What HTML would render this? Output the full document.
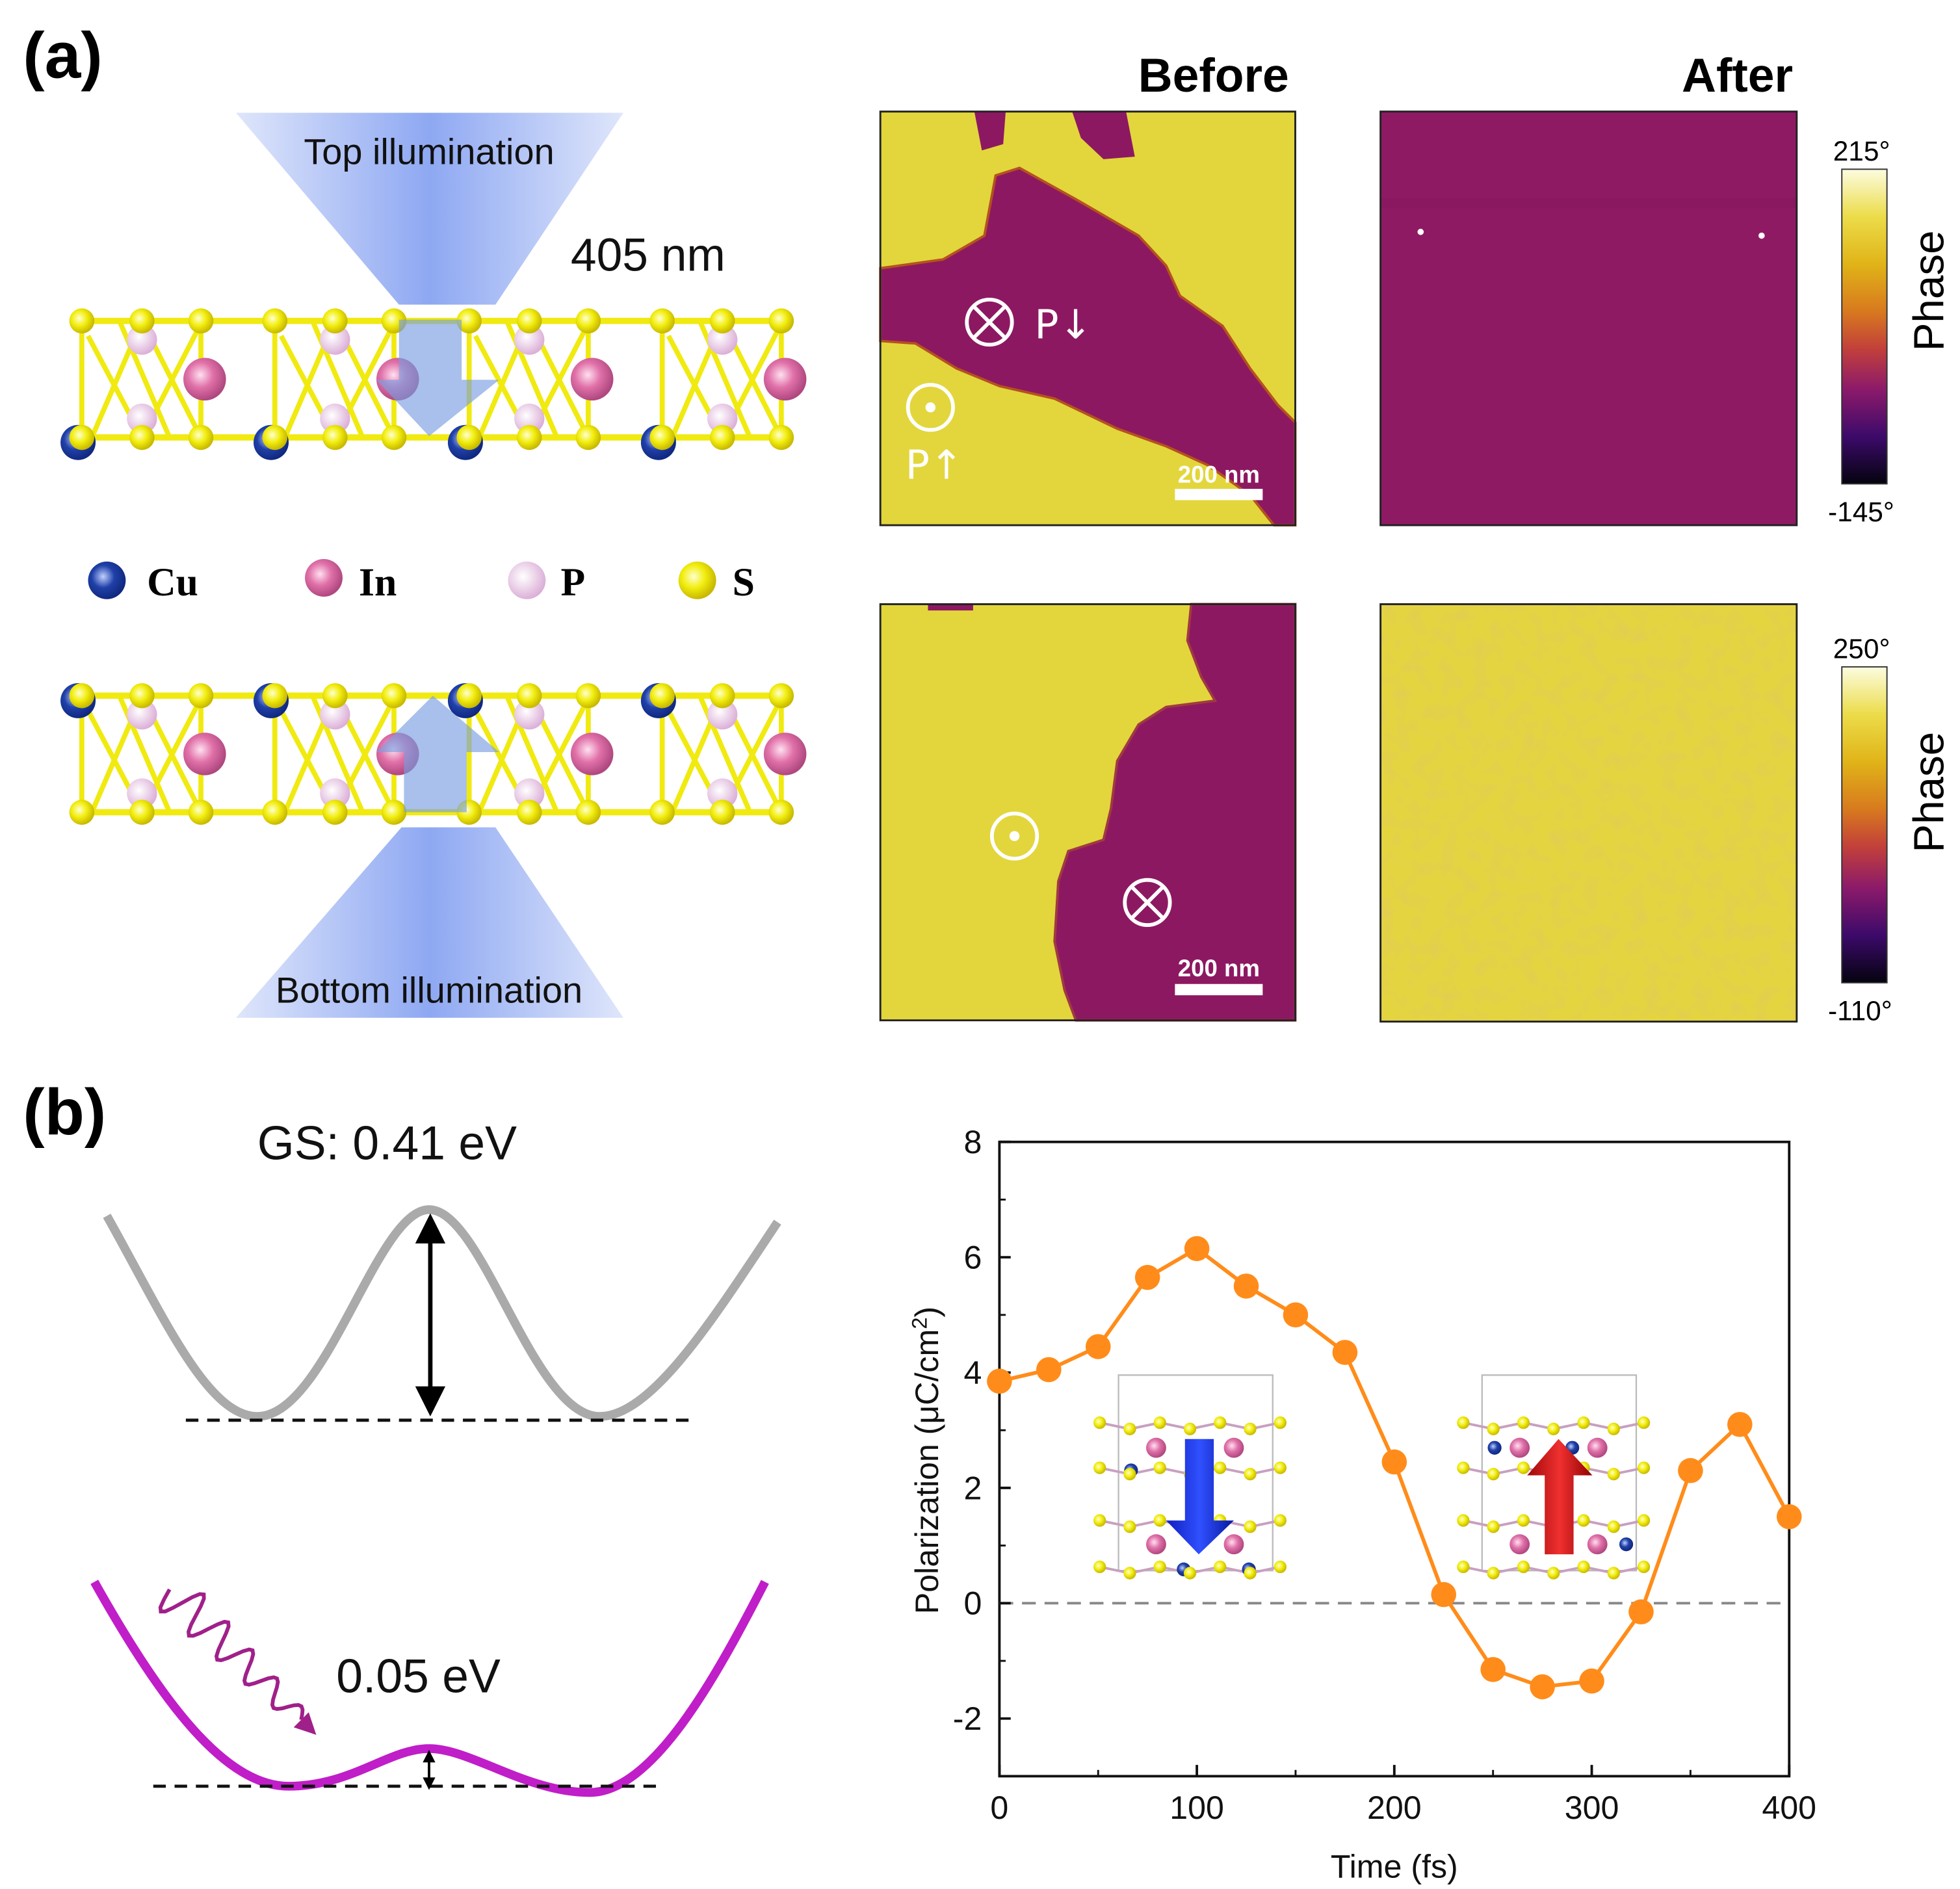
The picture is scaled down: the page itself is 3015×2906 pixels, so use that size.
<!DOCTYPE html>
<html><head><meta charset="utf-8">
<style>
html,body{margin:0;padding:0;background:#fff;}
svg{display:block;font-family:"Liberation Sans",sans-serif;}
</style></head>
<body>
<svg id="fig" width="3015" height="2906" viewBox="0 0 1563 1507" xmlns="http://www.w3.org/2000/svg">
<defs>
  <linearGradient id="beamTop" x1="0" x2="1" y1="0" y2="0">
    <stop offset="0" stop-color="#dfe6fb"/><stop offset="0.5" stop-color="#8ea8f2"/><stop offset="1" stop-color="#dfe6fb"/>
  </linearGradient>
  <linearGradient id="cbar" x1="0" x2="0" y1="0" y2="1">
    <stop offset="0" stop-color="#fcfce0"/><stop offset="0.15" stop-color="#ecdc4a"/><stop offset="0.3" stop-color="#e0b418"/>
    <stop offset="0.45" stop-color="#d87a1e"/><stop offset="0.57" stop-color="#c2403a"/><stop offset="0.7" stop-color="#8c1a6a"/>
    <stop offset="0.85" stop-color="#3c0a6a"/><stop offset="1" stop-color="#05030f"/>
  </linearGradient>
  <radialGradient id="gS" cx="0.4" cy="0.4" r="0.6"><stop offset="0" stop-color="#ffffd0"/><stop offset="0.5" stop-color="#f2ee10"/><stop offset="1" stop-color="#c8b800"/></radialGradient>
  <radialGradient id="gIn" cx="0.4" cy="0.4" r="0.6"><stop offset="0" stop-color="#ffe0f0"/><stop offset="0.5" stop-color="#e070a8"/><stop offset="1" stop-color="#b04880"/></radialGradient>
  <radialGradient id="gP" cx="0.4" cy="0.4" r="0.6"><stop offset="0" stop-color="#fff"/><stop offset="1" stop-color="#dcb0d8"/></radialGradient>
  <radialGradient id="gCu" cx="0.4" cy="0.4" r="0.6"><stop offset="0" stop-color="#c0d0ff"/><stop offset="0.5" stop-color="#2040a8"/><stop offset="1" stop-color="#102880"/></radialGradient>
  <linearGradient id="gBlue" x1="0" x2="1"><stop offset="0" stop-color="#1020c0"/><stop offset="0.5" stop-color="#3050ff"/><stop offset="1" stop-color="#0818a0"/></linearGradient>
  <linearGradient id="gRed" x1="0" x2="1"><stop offset="0" stop-color="#a00808"/><stop offset="0.5" stop-color="#f03030"/><stop offset="1" stop-color="#900000"/></linearGradient>
  <filter id="noise" x="0" y="0" width="1" height="1"><feTurbulence type="fractalNoise" baseFrequency="0.08" numOctaves="2" seed="3"/><feColorMatrix values="0 0 0 0 0.75  0 0 0 0 0.6  0 0 0 0 0.1  0 0 0 1.4 -0.6"/></filter>
</defs>

<text x="18" y="62" font-size="52" font-weight="bold">(a)</text>
<text x="18" y="905" font-size="52" font-weight="bold">(b)</text>

<polygon points="188,90 497,90 395,243 318,243" fill="url(#beamTop)"/>
<text x="342" y="131" font-size="29" text-anchor="middle" fill="#111">Top illumination</text>
<text x="455" y="216" font-size="37" fill="#111">405 nm</text>
<polygon points="320,660 395,660 497,812 188,812" fill="url(#beamTop)"/>
<text x="342" y="800" font-size="29" text-anchor="middle" fill="#111">Bottom illumination</text>

<g id="crys1"></g>
<g id="crys2"></g>

<polygon points="318,255 368,255 368,303 398,303 342,348 300,303 318,303" fill="#7a9ee0" fill-opacity="0.65"/>
<polygon points="322,648 372,648 372,600 398,600 345,555 300,600 322,600" fill="#7a9ee0" fill-opacity="0.65"/>

<g font-family="Liberation Serif,serif" font-weight="bold" font-size="32">
  <circle cx="85" cy="463" r="15" fill="url(#gCu)"/><text x="117" y="475">Cu</text>
  <circle cx="258" cy="461" r="15" fill="url(#gIn)"/><text x="286" y="475">In</text>
  <circle cx="420" cy="463" r="15" fill="url(#gP)"/><text x="447" y="475">P</text>
  <circle cx="556" cy="463" r="15" fill="url(#gS)"/><text x="584" y="475">S</text>
</g>

<text x="1028" y="73" font-size="38" font-weight="bold" text-anchor="end">Before</text>
<text x="1430" y="73" font-size="38" font-weight="bold" text-anchor="end">After</text>

<g>
  <rect x="702" y="89" width="331" height="330" fill="#e2d63c"/>
  <polygon points="702,214 752,207 785,188 794,140 813,134 858,159 908,188 930,212 941,236 975,260 997,294 1019,323 1033,337 1033,419 1016,419 997,395 963,371 930,356 891,342 841,318 797,308 763,294 730,274 702,272" fill="#8d1862" stroke="#b4521e" stroke-width="2"/>
  <polygon points="777,89 802,89 800,115 783,120" fill="#8d1862"/>
  <polygon points="855,89 898,89 905,125 880,127 862,110" fill="#8d1862"/>
  <rect x="702" y="89" width="331" height="330" fill="none" stroke="#222" stroke-width="1.5"/>
  <g fill="none" stroke="#fff" stroke-width="3">
    <circle cx="789" cy="257" r="18"/><line x1="777" y1="245" x2="801" y2="269"/><line x1="801" y1="245" x2="777" y2="269"/>
    <circle cx="742" cy="325" r="18"/>
  </g>
  <circle cx="742" cy="325" r="4" fill="#fff"/>
  <text x="825" y="270" font-size="32" fill="#fff" font-family="DejaVu Sans,sans-serif">P↓</text>
  <text x="722" y="382" font-size="32" fill="#fff" font-family="DejaVu Sans,sans-serif">P↑</text>
  <text x="972" y="385" font-size="19" font-weight="bold" fill="#fff" text-anchor="middle">200 nm</text>
  <rect x="937" y="390" width="70" height="9" fill="#fff"/>
</g>

<g>
  <rect x="1101" y="89" width="332" height="330" fill="#8f1a64" stroke="#222" stroke-width="1.5"/>
  <rect x="1102" y="158" width="330" height="8" fill="#87185e" opacity="0.6"/>
  <circle cx="1133" cy="185" r="2.5" fill="#fff"/><circle cx="1405" cy="188" r="2.5" fill="#fff"/>
</g>

<g>
  <rect x="702" y="482" width="331" height="332" fill="#e2d63c"/>
  <polygon points="950,482 947,511 958,540 969,559 930,564 908,578 891,607 886,645 880,670 852,679 844,703 841,751 849,790 858,814 1033,814 1033,482" fill="#8d1862" stroke="#a03a40" stroke-width="2"/>
  <rect x="740" y="482" width="36" height="5" fill="#8d1862"/>
  <rect x="702" y="482" width="331" height="332" fill="none" stroke="#222" stroke-width="1.5"/>
  <g fill="none" stroke="#fff" stroke-width="3">
    <circle cx="809" cy="667" r="18"/>
    <circle cx="915" cy="720" r="18"/><line x1="903" y1="708" x2="927" y2="732"/><line x1="927" y1="708" x2="903" y2="732"/>
  </g>
  <circle cx="809" cy="667" r="4" fill="#fff"/>
  <text x="972" y="779" font-size="19" font-weight="bold" fill="#fff" text-anchor="middle">200 nm</text>
  <rect x="937" y="785" width="70" height="9" fill="#fff"/>
</g>

<g>
  <rect x="1101" y="482" width="332" height="333" fill="#e4d440"/>
  <rect x="1101" y="482" width="332" height="333" fill="#fff" filter="url(#noise)"/>
  <rect x="1101" y="482" width="332" height="333" fill="none" stroke="#222" stroke-width="1.5"/>
</g>

<g>
  <rect x="1469" y="135" width="36" height="251" fill="url(#cbar)" stroke="#333" stroke-width="1"/>
  <text x="1462" y="128" font-size="22">215°</text>
  <text x="1458" y="416" font-size="22">-145°</text>
  <text transform="translate(1550,232) rotate(-90)" font-size="34" text-anchor="middle">Phase</text>
</g>
<g>
  <rect x="1469" y="532" width="36" height="252" fill="url(#cbar)" stroke="#333" stroke-width="1"/>
  <text x="1462" y="525" font-size="22">250°</text>
  <text x="1458" y="814" font-size="22">-110°</text>
  <text transform="translate(1550,632) rotate(-90)" font-size="34" text-anchor="middle">Phase</text>
</g>

<text x="205" y="925" font-size="38" fill="#111">GS: 0.41 eV</text>
<path d="M85,970 C130,1050 165,1130 205,1130 C260,1130 300,965 342,965 C385,965 425,1130 478,1130 C520,1130 570,1050 620,975" fill="none" stroke="#aaaaaa" stroke-width="7"/>
<line x1="148" y1="1133" x2="553" y2="1133" stroke="#111" stroke-width="2.5" stroke-dasharray="10,7"/>
<g>
  <line x1="343" y1="985" x2="343" y2="1112" stroke="#000" stroke-width="3.5"/>
  <polygon points="343,968 331,992 355,992" fill="#000"/><polygon points="343,1130 331,1106 355,1106" fill="#000"/>
</g>
<path d="M75,1262 C130,1360 180,1425 230,1425 C280,1425 310,1395 342,1395 C375,1395 420,1430 470,1430 C520,1430 570,1340 610,1262" fill="none" stroke="#c01ec8" stroke-width="7"/>
<line x1="122" y1="1425" x2="528" y2="1425" stroke="#111" stroke-width="2.5" stroke-dasharray="10,7"/>
<g>
  <line x1="342" y1="1402" x2="342" y2="1422" stroke="#000" stroke-width="2"/>
  <polygon points="342,1396 337,1406 347,1406" fill="#000"/><polygon points="342,1428 337,1418 347,1418" fill="#000"/>
</g>
<path id="wave" fill="none" stroke="#a0208a" stroke-width="3"/>
<polygon points="252,1384 234,1378 246,1366" fill="#a0208a"/>
<text x="268" y="1350" font-size="38" fill="#111">0.05 eV</text>

<g id="chart"></g>
</svg>

<script>
const NS="http://www.w3.org/2000/svg";
function mk(parent,tag,attrs){const e=document.createElementNS(NS,tag);for(const k in attrs)e.setAttribute(k,attrs[k]);parent.appendChild(e);return e;}

function crystal(g,top,bot,flip){
  const starts=[65,219,374,528];
  mk(g,'line',{x1:62,y1:top,x2:626,y2:top,stroke:'#f0ea10','stroke-width':5});
  mk(g,'line',{x1:62,y1:bot,x2:626,y2:bot,stroke:'#f0ea10','stroke-width':5});
  starts.forEach(u=>{
    [[u,top,u,bot],[u+95,top,u+95,bot],[u+5,top+12,u+48,bot],[u+48,top,u+8,bot],[u+48,top,u+95,bot],[u+92,top+8,u+48,bot],[u+30,top,u+70,bot]].forEach(l=>{
      mk(g,'line',{x1:l[0],y1:l[1],x2:l[2],y2:l[3],stroke:'#f0ea10','stroke-width':4});
    });
    mk(g,'circle',{cx:u+48,cy:top+15,r:12,fill:'url(#gP)'});
    mk(g,'circle',{cx:u+48,cy:bot-15,r:12,fill:'url(#gP)'});
    mk(g,'circle',{cx:u+98,cy:(top+bot)/2,r:17,fill:'url(#gIn)'});
    mk(g,'circle',{cx:u-3,cy:flip?top+4:bot+4,r:14,fill:'url(#gCu)'});
    [0,48,95].forEach(dx=>{
      mk(g,'circle',{cx:u+dx,cy:top,r:10,fill:'url(#gS)'});
      mk(g,'circle',{cx:u+dx,cy:bot,r:10,fill:'url(#gS)'});
    });
  });
}
crystal(document.getElementById('crys1'),256,349,false);
crystal(document.getElementById('crys2'),555,648,true);

(function(){
  let d='';const x0=135,y0=1268,x1=240,y1=1372,n=60;
  const dx=x1-x0,dy=y1-y0,L=Math.hypot(dx,dy),ux=dx/L,uy=dy/L,px=-uy,py=ux;
  for(let i=0;i<=n;i++){const t=i/n;const a=Math.sin(t*Math.PI*10)*18*(1-0.6*t);
    const x=x0+dx*t+px*a,y=y0+dy*t+py*a;d+=(i?'L':'M')+x.toFixed(1)+','+y.toFixed(1);}
  document.getElementById('wave').setAttribute('d',d);
})();

const timeFs=[0,25,50,75,100,125,150,175,200,225,250,275,300,325,350,375,400];
const polarization=[3.85,4.05,4.45,5.65,6.15,5.5,5.0,4.35,2.45,0.15,-1.15,-1.45,-1.35,-0.15,2.3,3.1,1.5];
const xTicks=[0,100,200,300,400];
const yTicks=[-2,0,2,4,6,8];
const xMinorTicks=[50,150,250,350];
const yMinorTicks=[-3,-1,1,3,5,7];

const PL=797,PR=1427,PT=911,PB=1417,XMIN=0,XMAX=400,YMIN=-3,YMAX=8;
const sx=v=>PL+(v-XMIN)/(XMAX-XMIN)*(PR-PL);
const sy=v=>PB-(v-YMIN)/(YMAX-YMIN)*(PB-PT);
const ch=document.getElementById('chart');

const frame=mk(ch,'rect',{x:PL,y:PT,width:PR-PL,height:PB-PT,fill:'none',stroke:'#111','stroke-width':2});



const zl=mk(ch,'line',{x1:PL,x2:PR,y1:sy(0),y2:sy(0),stroke:'#888','stroke-width':2,'stroke-dasharray':'11,7'});



xTicks.forEach(v=>{
  const t=mk(ch,'line',{x1:sx(v),x2:sx(v),y1:PB,y2:PB-9,stroke:'#111','stroke-width':2});
  
  
  const l=mk(ch,'text',{x:sx(v),y:PB+34,'font-size':26,'text-anchor':'middle',fill:'#111'});
  l.textContent=v;
  
  
});
xMinorTicks.forEach(v=>{
  const t=mk(ch,'line',{x1:sx(v),x2:sx(v),y1:PB,y2:PB-5,stroke:'#111','stroke-width':1.5});
  
  
});
yTicks.forEach(v=>{
  const t=mk(ch,'line',{x1:PL,x2:PL+9,y1:sy(v),y2:sy(v),stroke:'#111','stroke-width':2});
  
  
  const l=mk(ch,'text',{x:PL-14,y:sy(v)+9,'font-size':26,'text-anchor':'end',fill:'#111'});
  l.textContent=v;
  
  
});
yMinorTicks.forEach(v=>{
  const t=mk(ch,'line',{x1:PL,x2:PL+5,y1:sy(v),y2:sy(v),stroke:'#111','stroke-width':1.5});
  
  
});

const xt=mk(ch,'text',{x:(PL+PR)/2,y:1498,'font-size':26,'text-anchor':'middle',fill:'#111'});
xt.textContent='Time (fs)';


const yt=mk(ch,'text',{transform:'translate(748,1165) rotate(-90)','font-size':26,'text-anchor':'middle',fill:'#111'});
yt.innerHTML='Polarization (μC/cm<tspan dy="-9" font-size="17">2</tspan><tspan dy="9">)</tspan>';



function inset(x0,down){
  const g=mk(ch,'g',{});
  
  
  mk(g,'rect',{x:x0,y:1097,width:123,height:156,fill:'#fff','fill-opacity':0.4,stroke:'#bbb','stroke-width':1.2});
  [1137,1173,1215,1252].forEach(yy=>{
    for(let i=0;i<6;i++){
      const cx=x0-15+i*24, cy=yy+(i%2?3:-2);
      mk(g,'line',{x1:cx,y1:cy,x2:cx+24,y2:yy+((i+1)%2?3:-2),stroke:'#c8a0c0','stroke-width':2});
    }
  });
  [[x0+30,1155],[x0+92,1155],[x0+30,1232],[x0+92,1232]].forEach(p=>mk(g,'circle',{cx:p[0],cy:p[1],r:8,fill:'url(#gIn)'}));
  (down?[[x0+10,1173],[x0+52,1252],[x0+104,1252]]:[[x0+10,1155],[x0+72,1155],[x0+115,1232]]).forEach(p=>mk(g,'circle',{cx:p[0],cy:p[1],r:5.5,fill:'url(#gCu)'}));
  [1137,1173,1215,1252].forEach(yy=>{
    for(let i=0;i<7;i++) mk(g,'circle',{cx:x0-15+i*24,cy:yy+(i%2?3:-2),r:5,fill:'url(#gS)'});
  });
  if(down) mk(g,'polygon',{points:`${x0+53},1148 ${x0+76},1148 ${x0+76},1213 ${x0+92},1213 ${x0+64},1240 ${x0+38},1213 ${x0+53},1213`,fill:'url(#gBlue)'});
  else mk(g,'polygon',{points:`${x0+50},1240 ${x0+73},1240 ${x0+73},1177 ${x0+88},1177 ${x0+61},1148 ${x0+36},1177 ${x0+50},1177`,fill:'url(#gRed)'});
}
inset(892,true);
inset(1182,false);

let d='';
timeFs.forEach((t,i)=>{d+=(i?'L':'M')+sx(t).toFixed(1)+','+sy(polarization[i]).toFixed(1);});
const line=mk(ch,'path',{d:d,fill:'none',stroke:'#ff8c1a','stroke-width':3});


timeFs.forEach((t,i)=>{
  const c=mk(ch,'circle',{cx:sx(t),cy:sy(polarization[i]),r:10,fill:'#ff8c1a'});
  
  
});
</script>
</body></html>
